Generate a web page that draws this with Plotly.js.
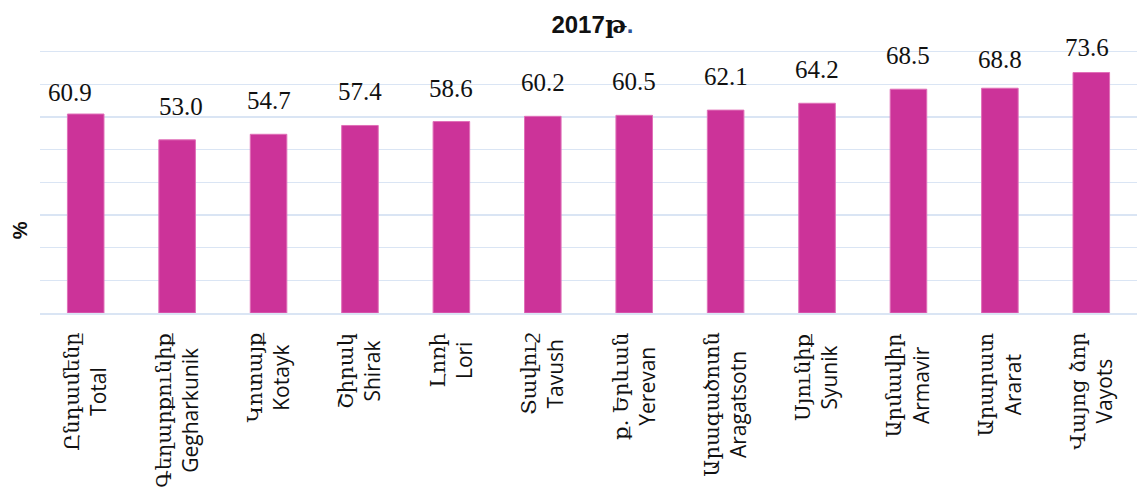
<!DOCTYPE html>
<html>
<head>
<meta charset="utf-8">
<script src="https://cdn.plot.ly/plotly-3.0.1.min.js"></script>
<style>html,body{margin:0;padding:0;background:#fff;}#chart{width:1137px;height:489px;}</style>
</head>
<body>
<div id="chart"></div>
<script>
const categories = ["Total","Gegharkunik","Kotayk","Shirak","Lori","Tavush","Yerevan","Aragatsotn","Syunik","Armavir","Ararat","Vayots"];
const armenianLabels = ["Ընդամենը","Գեղարքունիք","Կոտայք","Շիրակ","Լոռի","Տավուշ","ք. Երևան","Արագածոտն","Սյունիք","Արմավիր","Արարատ","Վայոց ձոր"];
const values = [60.9,53.0,54.7,57.4,58.6,60.2,60.5,62.1,64.2,68.5,68.8,73.6];
const valueLabels = ["60.9","53.0","54.7","57.4","58.6","60.2","60.5","62.1","64.2","68.5","68.8","73.6"];

// label nudges (pixels) as placed in the original
const labelDx = [-16,4,0,0,0,0,0,0,0,0,0,-4];
const labelDy = [-12,0,0,0,0,0,0,0,0,0,-5,-8];

const barColor = "#CC3399";
const gridColor = "#DAE5F4";

const annotations = [];
categories.forEach((c, i) => {
  annotations.push({
    x: c, y: values[i], xref: "x", yref: "y",
    text: valueLabels[i], showarrow: false,
    xanchor: "center", yanchor: "bottom", yshift: 18 + labelDy[i], xshift: labelDx[i],
    font: {family: "Liberation Serif, DejaVu Serif, serif", size: 25, color: "#111"}
  });
  annotations.push({
    x: c, y: 0, xref: "x", yref: "paper",
    text: '<span style="font-family:DejaVu Serif;font-size:21px">' + armenianLabels[i] + '</span><br><span style="font-family:Open Sans;font-size:21px">' + c + '</span>',
    showarrow: false, textangle: -90, align: "center",
    xanchor: "center", yanchor: "top", yshift: -18,
    font: {family: "Open Sans, DejaVu Sans, sans-serif", size: 21, color: "#111"}
  });
});
annotations.push({
  x: 0, y: 0.315, xref: "paper", yref: "paper", xanchor: "center", yanchor: "middle",
  xshift: -20, text: "<b>%</b>", showarrow: false, textangle: -90,
  font: {family: "Liberation Sans, DejaVu Sans, sans-serif", size: 20, color: "#111"}
});

const trace = {
  type: "bar",
  x: categories,
  y: values,
  marker: {color: barColor, line: {color: "#E070B8", width: 1}},
  hoverinfo: "skip"
};

const layout = {
  width: 1137, height: 489,
  margin: {l: 40, r: 0, t: 50, b: 176},
  paper_bgcolor: "#fff", plot_bgcolor: "#fff",
  title: {text: '<b>2017<span style="font-family:DejaVu Serif">թ</span><span style="fill:#2F5597">.</span></b>', x: 0.521, xanchor: "center", y: 0.95, yanchor: "middle",
    font: {family: "Liberation Sans, DejaVu Sans, sans-serif", size: 24, color: "#111"}},
  bargap: 0.6,
  showlegend: false,
  xaxis: {showticklabels: false, ticks: "", showgrid: false, zeroline: false,
    showline: true, linecolor: gridColor, linewidth: 1.5},
  yaxis: {range: [0, 80.5], dtick: 10, showticklabels: false, ticks: "",
    showgrid: true, gridcolor: gridColor, gridwidth: 1.2, zeroline: false},
  annotations: annotations
};

Plotly.newPlot("chart", [trace], layout, {displayModeBar: false, staticPlot: true});
</script>
</body>
</html>
